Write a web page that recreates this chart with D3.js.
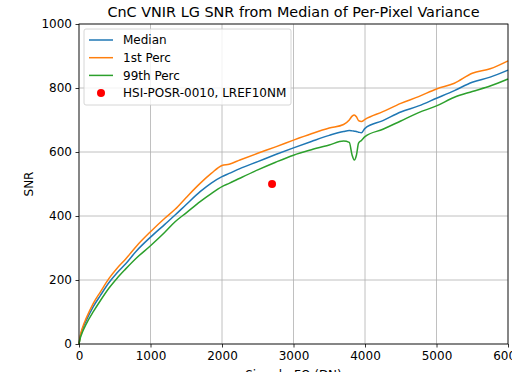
<!DOCTYPE html>
<html>
<head>
<meta charset="utf-8">
<script src="https://cdn.jsdelivr.net/npm/d3@7"></script>
<style>
  body { margin: 0; background: #fff; }
  svg { display: block; }
</style>
</head>
<body>
<div id="chart"></div>
<script>
// data
const signal = [0, 20, 50, 100, 200, 300, 420, 530, 650, 800, 1000, 1200, 1344, 1500, 1694, 1850, 2000, 2100, 2250, 2500, 2750, 3000, 3250, 3500, 3700, 3780, 3820, 3850, 3880, 3910, 3950, 4000, 4250, 4500, 4750, 5000, 5250, 5500, 5750, 6000];
const median = [0, 25, 47, 73, 117, 152, 192, 222, 250, 290, 334, 374, 403, 436, 476, 503, 523, 533, 548, 570, 592, 613, 633, 652, 664, 667, 666, 665, 664, 662, 660, 674, 698, 725, 744, 768, 792, 818, 834, 856];
const perc1 = [0, 28, 52, 80, 127, 163, 205, 236, 265, 305, 351, 393, 421, 458, 502, 533, 558, 562, 575, 596, 616, 637, 657, 675, 686, 700, 712, 716, 710, 698, 695, 702, 726, 752, 773, 797, 815, 846, 860, 885];
const perc99 = [0, 20, 38, 62, 101, 136, 175, 205, 234, 268, 307, 349, 382, 410, 445, 470, 492, 502, 518, 544, 568, 590, 607, 622, 634, 630, 590, 575, 590, 628, 636, 648, 671, 697, 723, 744, 771, 789, 806, 828];
const refPoint = [{x: 2700, y: 500}];
const xTicks = [0, 1000, 2000, 3000, 4000, 5000, 6000];
const yTicks = [0, 200, 400, 600, 800, 1000];

const series = [
  {name: 'Median', values: median, color: '#1f77b4'},
  {name: '1st Perc', values: perc1, color: '#ff7f0e'},
  {name: '99th Perc', values: perc99, color: '#2ca02c'}
];

const width = 512;
const height = 372;
const margin = {top: 24, right: 4, bottom: 28, left: 79};
const innerWidth = width - margin.left - margin.right;
const innerHeight = height - margin.top - margin.bottom;
const font = 'DejaVu Sans, sans-serif';
const labelSize = '12px';

const xScale = d3.scaleLinear().domain([0, 6000]).range([0, innerWidth]);
const yScale = d3.scaleLinear().domain([0, 1000]).range([innerHeight, 0]);

const svg = d3.select('#chart').append('svg')
  .attr('width', width)
  .attr('height', height);

const g = svg.append('g')
  .attr('transform', `translate(${margin.left},${margin.top})`);

// grid
g.append('g')
  .selectAll('line')
  .data(xTicks)
  .join('line')
  .attr('x1', d => xScale(d)).attr('x2', d => xScale(d))
  .attr('y1', 0).attr('y2', innerHeight)
  .attr('stroke', '#b0b0b0').attr('stroke-width', 0.8);

g.append('g')
  .selectAll('line')
  .data(yTicks)
  .join('line')
  .attr('x1', 0).attr('x2', innerWidth)
  .attr('y1', d => yScale(d)).attr('y2', d => yScale(d))
  .attr('stroke', '#b0b0b0').attr('stroke-width', 0.8);

// curves
const line = d3.line()
  .x((d, i) => xScale(signal[i]))
  .y(d => yScale(d))
  .curve(d3.curveMonotoneX);

series.forEach(s => {
  g.append('path')
    .datum(s.values)
    .attr('fill', 'none')
    .attr('stroke', s.color)
    .attr('stroke-width', 1.5)
    .attr('stroke-linejoin', 'round')
    .attr('d', line);
});

g.selectAll('.refPoint')
  .data(refPoint)
  .join('circle')
  .attr('class', 'refPoint')
  .attr('cx', d => xScale(d.x))
  .attr('cy', d => yScale(d.y))
  .attr('r', 4)
  .attr('fill', 'red');

// axes
const xAxis = g.append('g')
  .attr('transform', `translate(0,${innerHeight})`)
  .call(d3.axisBottom(xScale).tickValues(xTicks).tickSize(3.5).tickPadding(3.5).tickFormat(d3.format('d')));

const yAxis = g.append('g')
  .call(d3.axisLeft(yScale).tickValues(yTicks).tickSize(3.5).tickPadding(3.5).tickFormat(d3.format('d')));

[xAxis, yAxis].forEach(a => {
  a.selectAll('text').style('font-family', font).style('font-size', labelSize).attr('fill', '#000');
  a.selectAll('line').attr('stroke', '#000').attr('stroke-width', 0.8);
  a.select('.domain').remove();
});

// spines
g.append('rect')
  .attr('x', 0).attr('y', 0)
  .attr('width', innerWidth).attr('height', innerHeight)
  .attr('fill', 'none')
  .attr('stroke', '#000')
  .attr('stroke-width', 0.8);

// titles
svg.append('text')
  .attr('x', margin.left + innerWidth / 2)
  .attr('y', 17)
  .attr('text-anchor', 'middle')
  .style('font-family', font)
  .style('font-size', '14.4px')
  .text('CnC VNIR LG SNR from Median of Per-Pixel Variance');

svg.append('text')
  .attr('x', margin.left + innerWidth / 2)
  .attr('y', 379)
  .attr('text-anchor', 'middle')
  .style('font-family', font)
  .style('font-size', labelSize)
  .text('Signal - FQ (DN)');

svg.append('text')
  .attr('transform', `translate(33,${margin.top + innerHeight / 2}) rotate(-90)`)
  .attr('text-anchor', 'middle')
  .style('font-family', font)
  .style('font-size', labelSize)
  .text('SNR');

// legend
const legend = g.append('g').attr('transform', 'translate(5,5)');
legend.append('rect')
  .attr('width', 207).attr('height', 76)
  .attr('rx', 2)
  .attr('fill', '#fff').attr('fill-opacity', 0.8)
  .attr('stroke', '#cccccc').attr('stroke-width', 0.8);

const items = series.map(s => ({name: s.name, color: s.color, type: 'line'}))
  .concat([{name: 'HSI-POSR-0010, LREF10NM', color: 'red', type: 'dot'}]);

items.forEach((d, i) => {
  const y = 11 + i * 17.7;
  if (d.type === 'line') {
    legend.append('line')
      .attr('x1', 5).attr('x2', 29)
      .attr('y1', y).attr('y2', y)
      .attr('stroke', d.color).attr('stroke-width', 1.5);
  } else {
    legend.append('circle')
      .attr('cx', 17).attr('cy', y).attr('r', 4)
      .attr('fill', d.color);
  }
  legend.append('text')
    .attr('x', 39).attr('y', y + 4.2)
    .style('font-family', font)
    .style('font-size', labelSize)
    .text(d.name);
});
</script>
</body>
</html>
